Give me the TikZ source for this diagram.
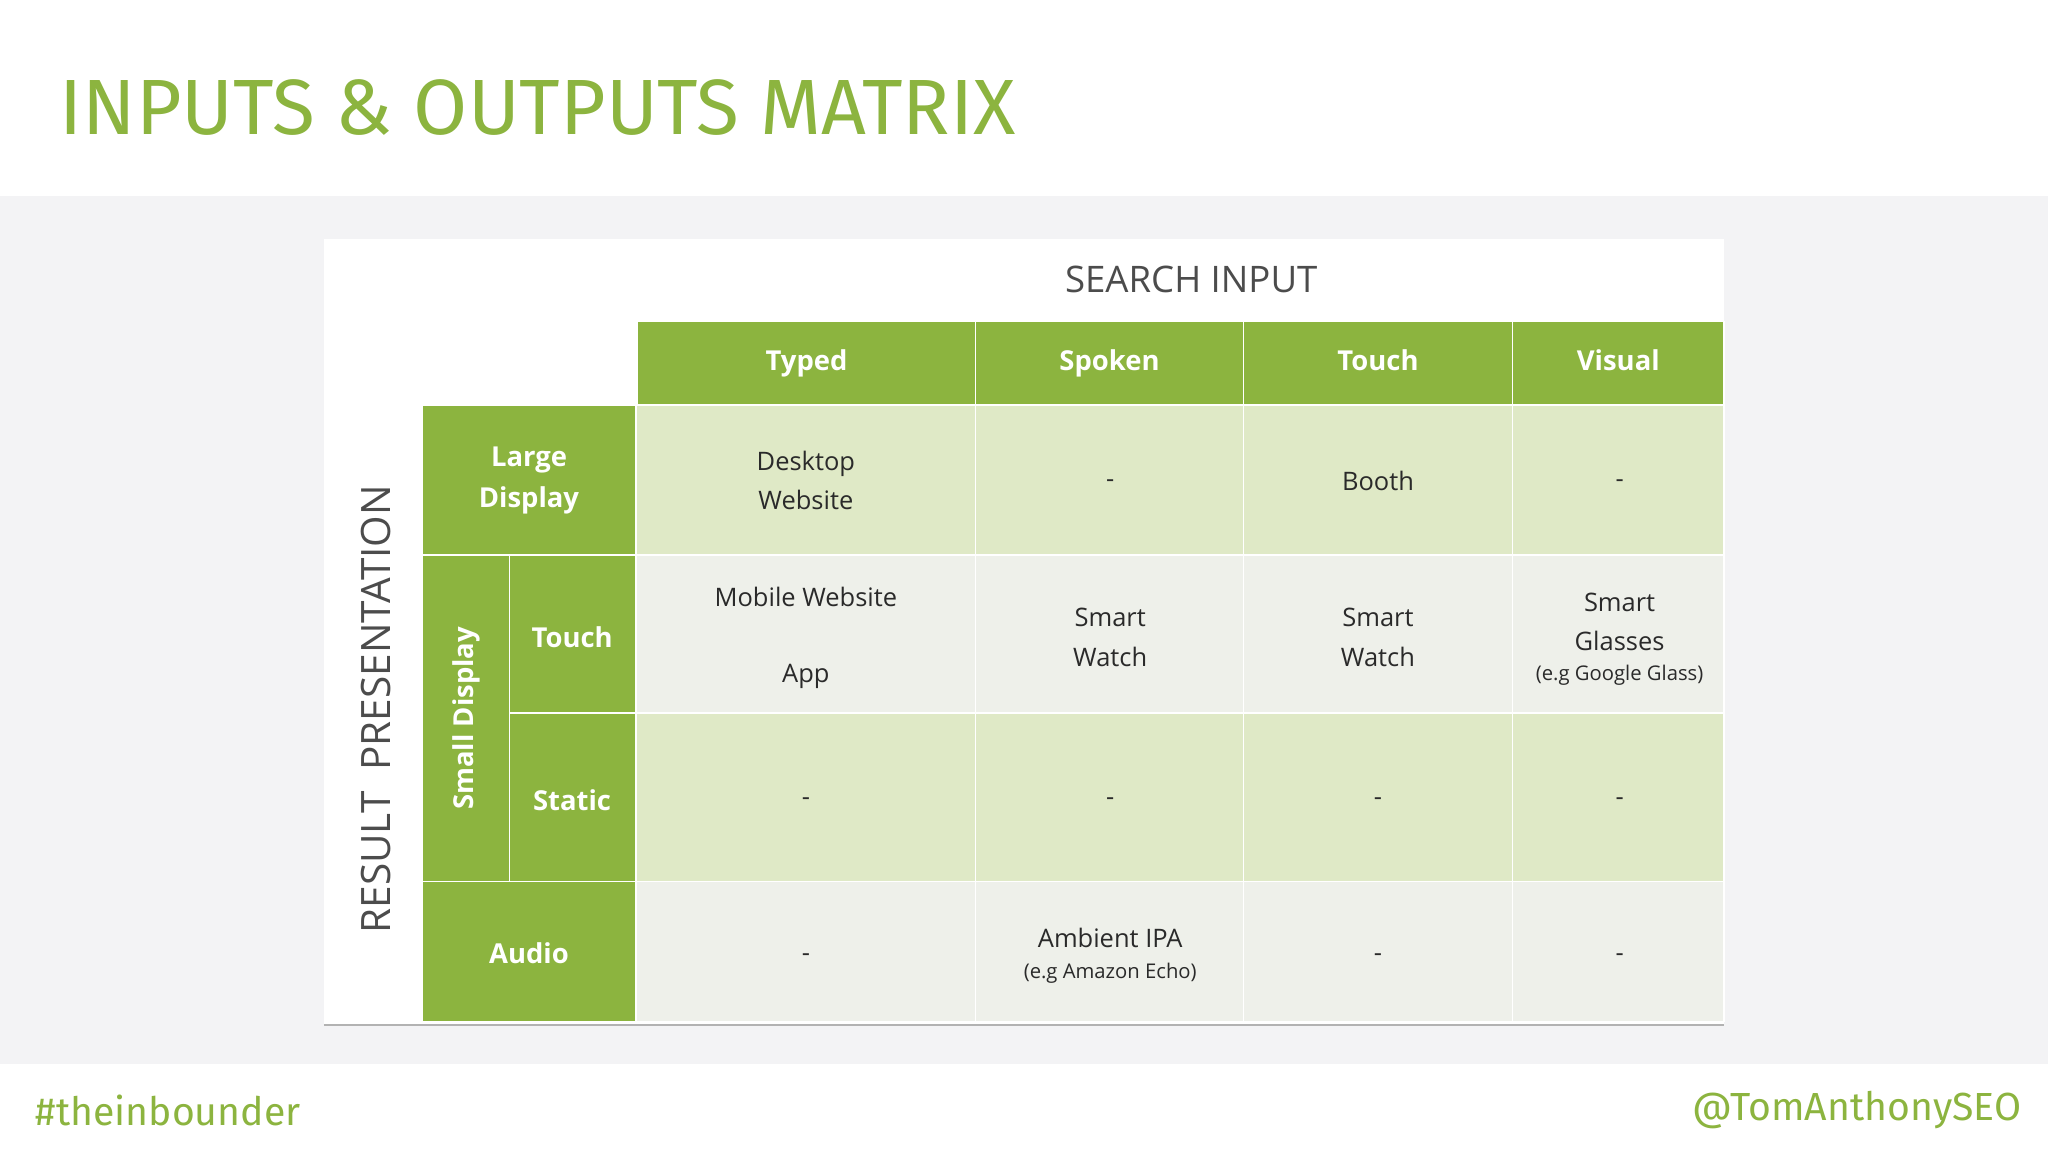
\documentclass[tikz,border=0pt]{standalone}
\usepackage{fontspec}
\setmainfont{Open Sans}
\newfontfamily\titlefont{Fira Sans}
\definecolor{gr}{HTML}{8CB43F}
\definecolor{lg}{HTML}{DFE9C6}
\definecolor{lgr}{HTML}{EEF0EA}
\definecolor{bg}{HTML}{F3F3F5}
\definecolor{tx}{HTML}{2A2A2A}
\tikzset{
 hd/.style={fill=gr,draw=white,line width=1pt},
 c1/.style={fill=lg,draw=white,line width=1pt},
 c2/.style={fill=lgr,draw=white,line width=1pt},
 ht/.style={text=white,font=\fontsize{21}{31}\selectfont\bfseries,align=center},
 ct/.style={text=tx,font=\fontsize{19.5}{30}\selectfont,align=center},
 st/.style={font=\fontsize{15.5}{20}\selectfont}
}
\begin{document}
\begin{tikzpicture}[x=1pt,y=-1pt]
\useasboundingbox (0,0) rectangle (1568,882);
\fill[white] (0,0) rectangle (1568,882);
\fill[bg] (0,150) rectangle (1568,815);
\fill[white] (248,183) rectangle (1320,785);
\draw[gray!60,line width=1.5pt] (248,785) -- (1320,785);
\node[anchor=west,text=gr,font=\titlefont\fontsize{60}{62}\selectfont] (title) at (42,82) {INPUTS \& OUTPUTS MATRIX};
\node[text=black!70,font=\fontsize{28}{30}\selectfont] (si) at (912,214) {SEARCH INPUT};
\node[rotate=90,text=black!70,font=\fontsize{31}{32}\selectfont] (rp) at (288,543) {RESULT\ \ PRESENTATION};
% header row
\foreach \a/\b/\t in {488/747/Typed,747/952/Spoken,952/1158/Touch,1158/1320/Visual}{
 \draw[hd] (\a,246) rectangle (\b,310);
 \node[ht,text height=15pt,text depth=5pt] at ({(\a+\b)/2},279) {\t};}
% left headers
\draw[hd] (323,310) rectangle (487,425); \node[ht] (ld) at (405,368) {Large\\Display};
\draw[hd] (323,425) rectangle (390,675); \node[ht,rotate=90] (sd) at (357,550) {Small Display};
\draw[hd] (390,425) rectangle (487,546); \node[ht] (tch) at (438,488) {Touch};
\draw[hd] (390,546) rectangle (487,675); \node[ht] (sta) at (438,613) {Static};
\draw[hd] (323,675) rectangle (487,782); \node[ht] (aud) at (405,730) {Audio};
% body
\foreach \ya/\yb/\s in {310/425/c1,425/546/c2,546/675/c1,675/782/c2}{
 \foreach \a/\b in {487/747,747/952,952/1158,1158/1320}{
  \draw[\s] (\a,\ya) rectangle (\b,\yb);}}
\node[ct] at (617,368) {Desktop\\Website};
\node[ct] at (850,370) {-};
\node[ct] at (1055,368) {Booth};
\node[ct] at (1240,370) {-};
\node[ct] at (617,457) {Mobile Website};
\node[ct] at (617,518) {App};
\node[ct] at (850,488) {Smart\\Watch};
\node[ct] at (1055,488) {Smart\\Watch};
\node[ct] at (1240,476) {Smart\\Glasses};
\node[ct,st] at (1240,517) {(e.g Google Glass)};
\foreach \x in {617,850,1055,1240}{\node[ct] at (\x,614) {-};}
\node[ct] at (617,733) {-};
\node[ct] at (850,718) {Ambient IPA};
\node[ct,st] at (850,745) {(e.g Amazon Echo)};
\node[ct] at (1055,733) {-};
\node[ct] at (1240,733) {-};
% footer
\node[anchor=west,text=gr,font=\titlefont\fontsize{30}{31}\selectfont] (ft1) at (24,850) {\#theinbounder};
\node[anchor=east,text=gr,font=\titlefont\fontsize{30}{31}\selectfont] (ft2) at (1551,850) {@TomAnthonySEO};
\end{tikzpicture}
\end{document}
